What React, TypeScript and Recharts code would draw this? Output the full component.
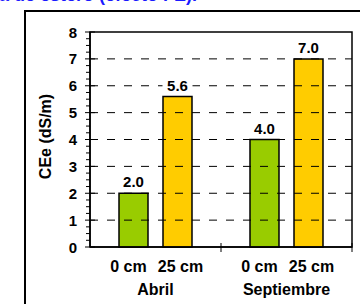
import { BarChart, Bar, XAxis, YAxis, ReferenceLine, ReferenceArea, LabelList } from 'recharts';

// months and the two depths shown under each group
const months = ['Abril', 'Septiembre'];
const depths = ['0 cm', '25 cm'];
const cm0 = [2.0, 4.0];
const cm25 = [5.6, 7.0];

const yMajor = [0, 1, 2, 3, 4, 5, 6, 7, 8];
const gridValues = [1, 2, 3, 4, 5, 6, 7];
const yTicks = yMajor.flatMap((v) => (v < 8 ? [v, v + 0.25, v + 0.5, v + 0.75] : [v]));

const data = months.map((m, i) => ({ month: m, cm0: cm0[i], cm25: cm25[i] }));

const FONT = '"Liberation Sans", Arial, sans-serif';

function YTick(props: any) {
  const { x, y, payload } = props;
  const v = payload.value;
  if (Number.isInteger(v)) {
    return (
      <g>
        <line x1={x - 5} x2={x + 5} y1={y} y2={y} stroke="#000" strokeWidth={1} />
        <text x={x - 13} y={y + 5.5} textAnchor="end" fontFamily={FONT} fontWeight="bold" fontSize={15} fill="#000">
          {v}
        </text>
      </g>
    );
  }
  return <line x1={x - 4} x2={x} y1={y} y2={y} stroke="#000" strokeWidth={1} />;
}

function XTick(props: any) {
  const { x, y, payload } = props;
  const half = payload.offset || (props.width && props.visibleTicksCount ? props.width / props.visibleTicksCount / 2 : 65);
  const txt = { fontFamily: FONT, fontWeight: 'bold' as const, fontSize: 16, fill: '#000' };
  return (
    <g>
      <line x1={x + half} x2={x + half} y1={y - 4} y2={y + 5} stroke="#000" strokeWidth={1} />
      <text x={x - 27} y={y + 25} textAnchor="middle" {...txt}>{depths[0]}</text>
      <text x={x + 25} y={y + 25} textAnchor="middle" {...txt}>{depths[1]}</text>
      <text x={x} y={y + 48} textAnchor="middle" {...txt}>{payload.value}</text>
    </g>
  );
}

function ValueLabel(props: any) {
  const { x, y, width, value } = props;
  const cx = x + width / 2;
  return (
    <g>
      <rect x={cx - 15} y={y - 21} width={30} height={18} fill="#fff" />
      <text x={cx} y={y - 6} textAnchor="middle" fontFamily={FONT} fontWeight="bold" fontSize={15} fill="#000">
        {Number(value).toFixed(1)}
      </text>
    </g>
  );
}

function YLabel(props: any) {
  const vb = props.viewBox || { x: 40, y: 32, width: 50, height: 215 };
  const cx = 45;
  const cy = vb.y + vb.height / 2 - 3;
  return (
    <text
      x={cx}
      y={cy}
      transform={`rotate(-90 ${cx} ${cy})`}
      textAnchor="middle"
      dominantBaseline="central"
      fontFamily={FONT}
      fontWeight="bold"
      fontSize={16}
      fill="#000"
    >
      CEe (dS/m)
    </text>
  );
}

export default function App() {
  return (
    <div style={{ position: 'relative', width: 360, height: 304, overflow: 'hidden', background: '#fff' }}>
      <style>{'body{margin:0}'}</style>
      <div
        style={{
          position: 'absolute',
          right: 163,
          top: -15,
          whiteSpace: 'nowrap',
          fontFamily: FONT,
          fontWeight: 'bold',
          fontSize: 18,
          color: '#1a1aff',
        }}
      >
        Agua de estero (efecto FE).
      </div>
      <div
        style={{
          position: 'absolute',
          left: 24,
          top: 10,
          width: 400,
          height: 400,
          borderLeft: '2px solid #000',
          borderTop: '2px solid #000',
        }}
      />
      <div style={{ position: 'absolute', left: 0, top: 0 }}>
        <BarChart
          width={360}
          height={304}
          data={data}
          margin={{ top: 32, right: 8, bottom: 0, left: 40 }}
          barSize={29}
          barGap={15}
        >
          <XAxis
            dataKey="month"
            height={57}
            tickLine={false}
            tickSize={0}
            tickMargin={0}
            axisLine={{ stroke: '#000', strokeWidth: 1.5 }}
            tick={<XTick />}
            interval={0}
          />
          <YAxis
            width={50}
            domain={[0, 8]}
            ticks={yTicks}
            interval={0}
            tickLine={false}
            tickSize={0}
            tickMargin={0}
            axisLine={{ stroke: '#000', strokeWidth: 1.5 }}
            tick={<YTick />}
            label={<YLabel />}
          />
          {gridValues.map((v) => (
            <ReferenceLine key={v} y={v} stroke="#000" strokeWidth={1} strokeDasharray="8 9" />
          ))}
          <ReferenceArea y1={0} y2={8} fill="none" stroke="#000" strokeWidth={1.5} />
          <Bar dataKey="cm0" fill="#99cc00" stroke="#000" strokeWidth={1.5} isAnimationActive={false}>
            <LabelList dataKey="cm0" content={<ValueLabel />} />
          </Bar>
          <Bar dataKey="cm25" fill="#ffcc00" stroke="#000" strokeWidth={1.5} isAnimationActive={false}>
            <LabelList dataKey="cm25" content={<ValueLabel />} />
          </Bar>
        </BarChart>
      </div>
    </div>
  );
}
